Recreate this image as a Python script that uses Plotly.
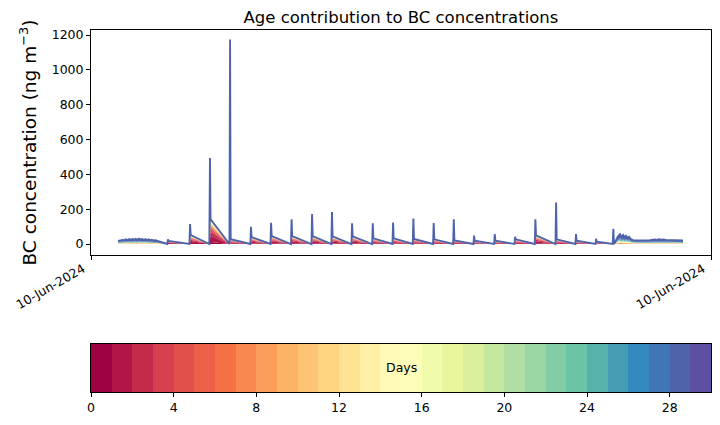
import plotly.graph_objects as go

# ---------------- data ----------------
ages = list(range(30))                      # age bins (days)
tick_labels = ["10-Jun-2024", "10-Jun-2024"]
x_ticks = [0.0, 30.54]

# emission events: time (day units), peak total, fresh (young) part after the peak
event_day = [3.79, 4.88, 5.86, 6.85, 7.88, 8.87, 9.88, 10.89, 11.87, 12.86, 13.88, 14.88,
             15.88, 16.88, 17.87, 18.87, 19.89, 20.89, 21.89, 22.91, 23.89, 24.88, 25.73]
event_peak = [27, 115, 495, 1175, 99, 122, 142, 172, 184, 119, 119, 124,
              147, 121, 142, 48, 57, 42, 142, 239, 57, 30, 88]
event_fresh = [18, 52, 143, 28, 40, 46, 46, 46, 44, 44, 33, 33,
               29, 27, 21, 19, 19, 27, 50, 27, 19, 13, 0]

# aged background before the first event and after the last
bg1_day = [1.33, 1.40, 1.48, 1.56, 1.64, 1.72, 1.80, 1.88, 1.96, 2.04, 2.12, 2.20, 2.28,
           2.36, 2.44, 2.52, 2.60, 2.68, 2.76, 2.84, 2.92, 3.00, 3.08, 3.16, 3.24, 3.30, 3.74]
bg1_val = [18, 20, 21, 24, 22, 27, 23, 28, 24, 29, 25, 30, 24,
           31, 26, 29, 23, 28, 22, 27, 21, 25, 20, 22, 19, 17, 3]
bg2_day = [25.79, 25.96, 26.06, 26.13, 26.21, 26.28, 26.35, 26.43, 26.50, 26.60, 26.70,
           26.85, 27.04, 27.29, 27.54, 27.68, 27.78, 27.88, 27.98, 28.08, 28.18, 28.33,
           28.52, 28.77, 29.01, 29.16]
bg2_val = [5, 45, 57, 40, 52, 38, 48, 36, 42, 28, 22,
           21, 20, 21, 22, 25, 26, 24, 27, 25, 26, 23,
           22, 22, 21, 20]

# share of each age bin in fresh and aged air
fresh_share = [0.08, 0.25, 0.15, 0.08, 0.07, 0.05, 0.04, 0.03,
               0.02, 0.02, 0.02, 0.02, 0.02,
               0.01, 0.01, 0.01, 0.01, 0.01, 0.01, 0.01, 0.01,
               0.005, 0.005, 0.005, 0.005, 0.005, 0.005, 0.005,
               0.03, 0.005]
aged_share = [0.01, 0.01, 0.01, 0.01, 0.01, 0.01,
              0.015, 0.015, 0.015, 0.015, 0.015, 0.015, 0.015,
              0.02, 0.02, 0.02, 0.02, 0.02, 0.02, 0.02, 0.02,
              0.03, 0.03, 0.03, 0.03, 0.03, 0.03,
              0.10, 0.39, 0.005]

# ColorBrewer Spectral (same as matplotlib's)
spectral = [(158, 1, 66), (213, 62, 79), (244, 109, 67), (253, 174, 97), (254, 224, 139),
            (255, 255, 191), (230, 245, 152), (171, 221, 164), (102, 194, 165),
            (50, 136, 189), (94, 79, 162)]


def cmap(f):
    p = f * (len(spectral) - 1)
    i = min(int(p), len(spectral) - 2)
    t = p - i
    a, b = spectral[i], spectral[i + 1]
    return "rgb(%d,%d,%d)" % tuple(round(a[j] + (b[j] - a[j]) * t) for j in range(3))


colors = [cmap(k / 29) for k in ages]

# ---------------- build the vertex series ----------------
xs, fresh, aged, spike = [], [], [], []
for d, v in zip(bg1_day, bg1_val):
    xs.append(d); fresh.append(0); aged.append(v); spike.append(0)
for t, h, s in zip(event_day, event_peak, event_fresh):
    xs += [t - 0.03, t, t + 0.03]
    fresh += [0, s, s]
    aged += [0, 0, 0]
    spike += [0, h - s, 0]
for d, v in zip(bg2_day, bg2_val):
    xs.append(d); fresh.append(0); aged.append(v); spike.append(0)

fig = go.Figure()
for k in ages:
    ys = [f * fresh_share[k] + a * aged_share[k] + (sp if k == 28 else 0)
          for f, a, sp in zip(fresh, aged, spike)]
    fig.add_trace(go.Scatter(
        x=xs, y=ys, stackgroup="one", mode="lines",
        line=dict(width=1.9 if k == 28 else 0, color=colors[k]),
        fillcolor=colors[k], showlegend=False, name=f"{k}-{k+1} days",
        xaxis="x", yaxis="y"))

# colour bar drawn as a one-row heatmap
cs = []
for k in ages:
    cs.append([k / 30, colors[k]])
    cs.append([(k + 1) / 30, colors[k]])
fig.add_trace(go.Heatmap(
    z=[ages], x=[k + 0.5 for k in ages], y=[0], colorscale=cs,
    zmin=-0.5, zmax=29.5, showscale=False, xaxis="x2", yaxis="y2", hoverinfo="skip"))

font = "DejaVu Sans, Liberation Sans, sans-serif"
axis_common = dict(showline=True, linecolor="black", linewidth=1, mirror=True,
                   ticks="outside", ticklen=4, tickcolor="black",
                   showgrid=False, zeroline=False, automargin=False,
                   tickfont=dict(size=12.5, color="black", family=font))

main_bottom = 0.3785
annotations = [dict(text="Days", x=15, y=0, xref="x2", yref="y2", showarrow=False,
                    font=dict(size=12.5, color="black", family=font))]
for tv, tl in zip(x_ticks, tick_labels):
    annotations.append(dict(text=tl, x=tv, y=main_bottom, xref="x", yref="paper",
                            xanchor="right", yanchor="top", textangle=-30,
                            xshift=-1, yshift=-3, showarrow=False,
                            font=dict(size=12.5, color="black", family=font)))

fig.update_layout(
    width=720, height=425,
    margin=dict(l=91, r=9, t=30, b=33),
    paper_bgcolor="white", plot_bgcolor="white",
    title=dict(text="Age contribution to BC concentrations", x=401 / 720, xanchor="center",
               y=1 - 17 / 425, yanchor="middle", yref="container", automargin=False,
               font=dict(size=16.5, color="black", family=font)),
    xaxis=dict(range=[0, 30.54], tickvals=x_ticks, showticklabels=False,
               domain=[0, 1], anchor="y", **axis_common),
    yaxis=dict(range=[-63, 1229], tickvals=[0, 200, 400, 600, 800, 1000, 1200],
               domain=[main_bottom, 1], anchor="x",
               title=dict(text="BC concentration (ng m<sup>\u22123</sup>)", standoff=10,
                          font=dict(size=18.5, color="black", family=font)),
               **axis_common),
    xaxis2=dict(range=[0, 30], tickvals=[0, 4, 8, 12, 16, 20, 24, 28],
                domain=[0, 1], anchor="y2", **axis_common),
    yaxis2=dict(range=[-0.5, 0.5], domain=[0, 0.1326], anchor="x2", automargin=False,
                showline=True, linecolor="black", linewidth=1, mirror=True,
                showticklabels=False, ticks="", showgrid=False, zeroline=False),
    annotations=annotations,
)

fig.write_html("out.html", config={"displayModeBar": False},
               post_script="document.body.style.margin='0';")
